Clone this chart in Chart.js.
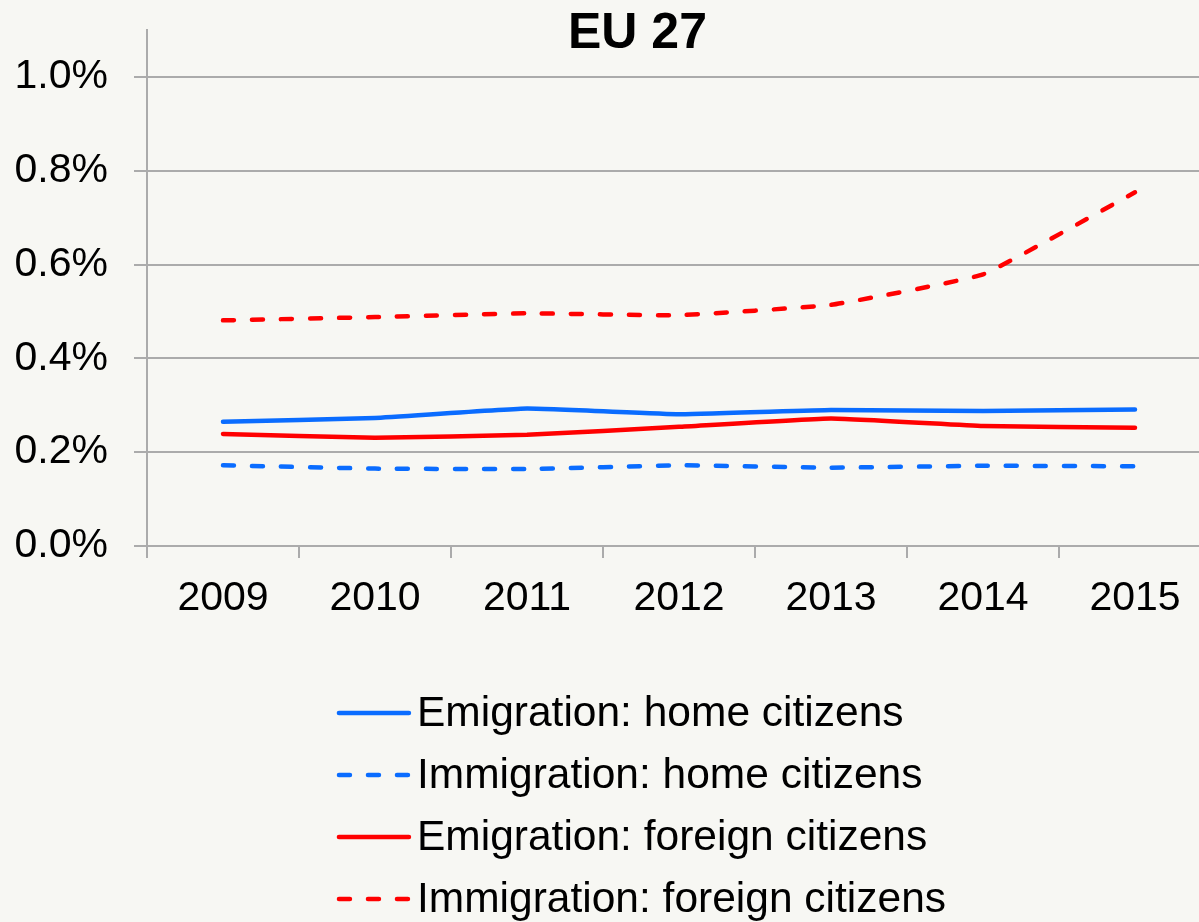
<!DOCTYPE html>
<html>
<head>
<meta charset="utf-8">
<title>EU 27</title>
<script src="https://cdn.jsdelivr.net/npm/chart.js@4/dist/chart.umd.min.js"></script>
<style>
  html, body { margin: 0; padding: 0; background: #f7f7f3; overflow: hidden; }
  #wrap { width: 1199px; height: 922px; overflow: hidden; }
  #chart { display: block; }
</style>
</head>
<body>
<div id="wrap"><canvas id="chart" width="1275" height="922"></canvas></div>
<script>
// share of population, in %
const years = ['2009', '2010', '2011', '2012', '2013', '2014', '2015'];
const emigrationHome = [0.265, 0.273, 0.293, 0.281, 0.290, 0.288, 0.291];
const immigrationHome = [0.172, 0.165, 0.164, 0.172, 0.167, 0.171, 0.170];
const emigrationForeign = [0.239, 0.231, 0.237, 0.254, 0.272, 0.256, 0.252];
const immigrationForeign = [0.481, 0.488, 0.496, 0.492, 0.514, 0.579, 0.754];
const yTicks = [0, 0.2, 0.4, 0.6, 0.8, 1.0];

const BLUE = '#0a6cff';
const RED = '#ff0000';
const GRID = '#ababab';
const FONT = "'Liberation Sans', Arial, sans-serif";

// legend stacked one entry per row, left aligned, centred as a block
const stackedLegend = {
  id: 'stackedLegend',
  afterDraw(chart, args, opts) {
    const ctx = chart.ctx;
    const sets = chart.data.datasets;
    ctx.save();
    ctx.font = `${opts.size}px ${FONT}`;
    const textW = Math.max(...sets.map(d => ctx.measureText(d.label).width));
    const blockW = opts.sample + opts.gap + textW;
    const x0 = chart.width / 2 - blockW / 2 + opts.shift;
    sets.forEach((d, i) => {
      const y = opts.top + i * opts.rowGap;
      ctx.strokeStyle = d.borderColor;
      ctx.lineWidth = d.borderWidth;
      ctx.lineCap = 'round';
      ctx.setLineDash(d.borderDash || []);
      ctx.beginPath();
      ctx.moveTo(x0, y);
      ctx.lineTo(x0 + opts.sample, y);
      ctx.stroke();
      ctx.setLineDash([]);
      ctx.fillStyle = '#000';
      ctx.textBaseline = 'middle';
      ctx.textAlign = 'left';
      ctx.fillText(d.label, x0 + opts.sample + opts.gap, y + 1);
    });
    ctx.restore();
  }
};

const line = (label, data, color, dashed) => ({
  label, data,
  borderColor: color,
  backgroundColor: color,
  borderWidth: 4.5,
  borderDash: dashed ? [11, 18] : [],
  borderCapStyle: 'round',
  pointRadius: 0,
  tension: 0.1,
  fill: false
});

new Chart(document.getElementById('chart'), {
  type: 'line',
  data: {
    labels: years,
    datasets: [
      line('Emigration: home citizens', emigrationHome, BLUE, false),
      line('Immigration: home citizens', immigrationHome, BLUE, true),
      line('Emigration: foreign citizens', emigrationForeign, RED, false),
      line('Immigration: foreign citizens', immigrationForeign, RED, true)
    ]
  },
  options: {
    responsive: false,
    animation: false,
    layout: { padding: { left: 0, right: 0, top: 0, bottom: 300 } },
    plugins: {
      legend: { display: false },
      tooltip: { enabled: false },
      title: {
        display: true,
        text: 'EU 27',
        color: '#000',
        font: { family: FONT, size: 50, weight: 'bold', lineHeight: 1.2 },
        padding: { top: 4, bottom: -34 }
      },
      stackedLegend: { top: 713, rowGap: 62, sample: 70, gap: 8, size: 42.5, shift: 5 }
    },
    scales: {
      x: {
        offset: true,
        grid: {
          offset: true,
          drawOnChartArea: false,
          drawTicks: true,
          tickLength: 12,
          color: GRID,
          lineWidth: 2
        },
        border: { display: true, color: GRID, width: 2 },
        ticks: { color: '#000', padding: 16, font: { family: FONT, size: 41 }, maxRotation: 0 },
        // blank strip on the right of the plot, title still centred on the full width
        afterFit: s => { s.height = 76; s.paddingLeft = 0; s.paddingRight = 64; }
      },
      y: {
        min: 0,
        max: 1.1,
        afterBuildTicks: s => { s.ticks = yTicks.map(v => ({ value: v })); },
        grid: { color: GRID, lineWidth: 2, tickLength: 13 },
        border: { display: true, color: GRID, width: 2 },
        ticks: {
          color: '#000',
          padding: 26,
          font: { family: FONT, size: 41 },
          callback: v => v.toFixed(1) + '%'
        },
        afterFit: s => { s.width = 147; s.paddingTop = 0; s.paddingBottom = 0; }
      }
    }
  },
  plugins: [stackedLegend]
});
</script>
</body>
</html>
